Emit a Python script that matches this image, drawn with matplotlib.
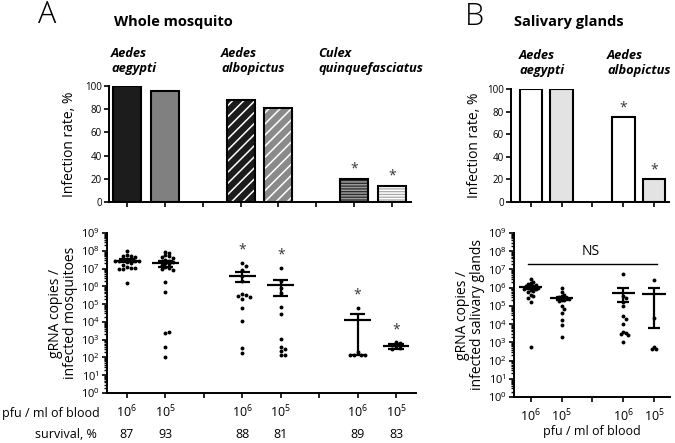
import numpy as np
import matplotlib
matplotlib.use('Agg')
import matplotlib.pyplot as plt
from matplotlib.ticker import LogLocator, NullFormatter
from matplotlib.transforms import blended_transform_factory

plt.rcParams['font.family'] = ['Open Sans', 'DejaVu Sans']
plt.rcParams['mathtext.fontset'] = 'custom'
plt.rcParams['mathtext.rm'] = 'Open Sans'
plt.rcParams['mathtext.it'] = 'Open Sans:italic'
plt.rcParams['mathtext.bf'] = 'Open Sans:bold'
plt.rcParams['hatch.linewidth'] = 1.1

# 数据
species_A = ['Aedes\naegypti', 'Aedes\nalbopictus', 'Culex\nquinquefasciatus']
species_B = ['Aedes\naegypti', 'Aedes\nalbopictus']
dose_labels = [r'$\mathregular{10^6}$', r'$\mathregular{10^5}$']
infection_A = [100, 96, 88, 81, 20, 14]
infection_B = [100, 100, 75, 20]
survival_A = [87, 93, 88, 81, 89, 83]
star_bar_A = [False, False, False, False, True, True]
star_bar_B = [False, False, True, True]
star_dot_A = [False, False, True, True, True, True]

# log10 gRNA copies, whole mosquito
copies_A = [
    [8.0, 7.75, 7.7, 7.7, 7.65, 7.55, 7.5, 7.5, 7.45, 7.45, 7.4, 7.4, 7.35, 7.3, 7.2, 7.1, 7.05, 7.05, 7.0, 7.0, 6.2],
    [7.95, 7.9, 7.75, 7.7, 7.65, 7.6, 7.5, 7.45, 7.4, 7.35, 7.3, 7.25, 7.2, 7.1, 7.05, 7.0, 6.9, 6.25, 5.7, 3.4, 3.45, 2.6, 2.0],
    [7.3, 7.15, 6.9, 6.6, 6.3, 5.55, 5.5, 5.45, 5.4, 5.3, 4.8, 4.05, 2.55, 2.25],
    [7.05, 6.3, 5.9, 5.6, 4.85, 4.45, 3.05, 2.6, 2.45, 2.35, 2.15, 2.15],
    [4.8, 2.3, 2.15, 2.15, 2.15, 2.15],
    [2.85, 2.8, 2.7, 2.65, 2.55, 2.45],
]
mean_A = [7.45, 7.3, 6.57, 6.1, 4.12, 2.64]
sem_lo_A = [7.38, 7.1, 6.25, 5.45, 2.15, 2.5]
sem_hi_A = [7.52, 7.45, 6.8, 6.38, 4.42, 2.76]

# log10 gRNA copies, salivary glands
copies_B = [
    [6.45, 6.3, 6.25, 6.2, 6.15, 6.1, 6.1, 6.05, 6.0, 6.0, 5.95, 5.9, 5.85, 5.8, 5.75, 5.6, 5.55, 5.45, 5.2, 2.75],
    [5.97, 5.75, 5.6, 5.55, 5.5, 5.45, 5.45, 5.4, 5.35, 5.3, 5.25, 5.0, 4.85, 4.6, 4.25, 3.95, 3.3],
    [6.75, 5.55, 5.45, 5.2, 5.0, 4.45, 4.3, 4.0, 3.55, 3.5, 3.45, 3.4, 3.0],
    [6.4, 4.35, 2.75, 2.65, 2.65],
]
mean_B = [6.02, 5.42, 5.69, 5.66]
sem_lo_B = [5.95, 5.33, 5.2, 3.8]
sem_hi_B = [6.1, 5.5, 5.97, 6.0]

W, H = 675, 443


def fpos(x, y):
    return x / W, 1 - y / H


def ax_box(x0, y0, x1, y1):
    return [x0 / W, 1 - y1 / H, (x1 - x0) / W, (y1 - y0) / H]


def swarm(vals, dx, dy):
    placed, offs = [], []
    for v in vals:
        for k in [0, 1, -1, 2, -2, 3, -3, 4, -4, 5, -5]:
            x = k * dx
            if all(((x - px) / dx) ** 2 + ((v - py) / dy) ** 2 >= 1 for px, py in placed):
                break
        placed.append((x, v))
        offs.append(x)
    return offs


def style_axes(ax):
    for s in ['top', 'right']:
        ax.spines[s].set_visible(False)
    for s in ['left', 'bottom']:
        ax.spines[s].set_linewidth(1.4)
    ax.tick_params(direction='out', width=1.2, length=3.5, labelsize=7, pad=1.5)


def bar_panel(ax, pos, vals, styles, stars):
    for p, v, st, s in zip(pos, vals, styles, stars):
        fc, hatch, hc = st
        if hatch:
            ax.bar(p, v, width=0.74, color=fc, edgecolor=hc, hatch=hatch, linewidth=0, zorder=2)
            ax.bar(p, v, width=0.74, fill=False, edgecolor='k', linewidth=1.5, zorder=3)
        else:
            ax.bar(p, v, width=0.74, color=fc, edgecolor='k', linewidth=1.5, zorder=2)
        if s:
            ax.text(p, v + 2, '*', ha='center', va='bottom', fontsize=10, color='#333333')
    ax.set_ylim(0, 100)
    ax.set_yticks([0, 20, 40, 60, 80, 100])
    style_axes(ax)


def dot_panel(ax, pos, groups, means, lo, hi, stars, dx, mean_w, cap_w):
    for p, vals, m, l, h, s in zip(pos, groups, means, lo, hi, stars):
        offs = swarm(vals, dx, 0.2)
        ax.plot(p + np.array(offs), 10 ** np.array(vals), 'o', color='k', ms=2.8, mec='none', zorder=3)
        ax.hlines(10 ** m, p - mean_w / 2, p + mean_w / 2, color='k', lw=1.6, zorder=4)
        ax.vlines(p, 10 ** l, 10 ** h, color='k', lw=1.6, zorder=4)
        ax.hlines([10 ** l, 10 ** h], p - cap_w / 2, p + cap_w / 2, color='k', lw=1.6, zorder=4)
        if s:
            ax.text(p, 10 ** (max(vals) + 0.3), '*', ha='center', va='bottom', fontsize=10, color='#333333')
    ax.set_yscale('log')
    ax.set_ylim(1, 1e9)
    ax.yaxis.set_major_locator(LogLocator(base=10, numticks=12))
    ax.yaxis.set_minor_locator(LogLocator(base=10, subs=np.arange(2, 10), numticks=100))
    ax.yaxis.set_minor_formatter(NullFormatter())
    style_axes(ax)
    ax.tick_params(axis='y', which='major', labelsize=8)
    ax.tick_params(axis='y', which='minor', length=2.2, width=1.0)


fig = plt.figure(figsize=(6.75, 4.43), dpi=100)

pos_A = [g * 3 + d for g in range(3) for d in range(2)]
pos_B = [g * 3 + d for g in range(2) for d in range(2)]

# ---- A: bars
axA1 = fig.add_axes(ax_box(109, 86, 411, 202))
styles_A = [('#1c1c1c', None, None), ('#808080', None, None),
            ('#1c1c1c', '///', 'white'), ('#8a8a8a', '///', 'white'),
            ('#2a2a2a', '------', '#9a9a9a'), ('#a8a8a8', '------', 'white')]
bar_panel(axA1, pos_A, infection_A, styles_A, star_bar_A)
axA1.set_xlim(-0.475, 7.5)
axA1.set_xticks(range(8))
axA1.set_xticklabels([])
axA1.set_ylabel('Infection rate, %', fontsize=10, labelpad=6)

# ---- A: dots
axA2 = fig.add_axes(ax_box(107, 233, 416, 393))
dot_panel(axA2, pos_A, copies_A, mean_A, sem_lo_A, sem_hi_A, star_dot_A, 0.1, 0.7, 0.4)
axA2.set_xlim(-0.52, 7.52)
axA2.set_xticks(range(8))
axA2.set_xticklabels([])
axA2.set_ylabel('gRNA copies /\ninfected mosquitoes', fontsize=10, labelpad=2, linespacing=1.0)

tr = blended_transform_factory(axA2.transData, fig.transFigure)
for i, p in enumerate(pos_A):
    fig.text(p, 1 - 412 / H, dose_labels[i % 2], transform=tr, ha='center', va='center', fontsize=9)
    fig.text(p, 1 - 434 / H, str(survival_A[i]), transform=tr, ha='center', va='center', fontsize=9)
fig.text(*fpos(100, 414), 'pfu / ml of blood', ha='right', va='center', fontsize=9)
fig.text(*fpos(97, 435), 'survival, %', ha='right', va='center', fontsize=9)

# ---- B: bars
axB1 = fig.add_axes(ax_box(511, 89, 669, 202))
styles_B = [('white', None, None), ('#e3e3e3', None, None)] * 2
bar_panel(axB1, pos_B, infection_B, styles_B, star_bar_B)
axB1.set_xlim(-0.65, 4.49)
axB1.set_xticks(range(5))
axB1.set_xticklabels([])
axB1.set_ylabel('Infection rate, %', fontsize=10, labelpad=4)

# ---- B: dots
axB2 = fig.add_axes(ax_box(514, 233, 670, 397))
dot_panel(axB2, pos_B, copies_B, mean_B, sem_lo_B, sem_hi_B, [False] * 4, 0.08, 0.75, 0.4)
axB2.set_xlim(-0.55, 4.52)
axB2.set_xticks(range(5))
axB2.set_xticklabels([dose_labels[0], dose_labels[1], '', dose_labels[0], dose_labels[1]], fontsize=9)
axB2.tick_params(axis='x', pad=4)
axB2.set_xlabel('pfu / ml of blood', fontsize=9, labelpad=1)
axB2.set_ylabel('gRNA copies /\ninfected salivary glands', fontsize=10, labelpad=2, linespacing=1.0)
axB2.plot([-0.1, 4.1], [10 ** 7.31, 10 ** 7.31], color='k', lw=1.0)
axB2.text(1.95, 10 ** 7.55, 'NS', ha='center', va='bottom', fontsize=10)

# ---- titles and species labels
fig.text(*fpos(47, 15), 'A', ha='center', va='center', fontsize=22, fontweight='light')
fig.text(*fpos(474, 17), 'B', ha='center', va='center', fontsize=22, fontweight='light')
fig.text(*fpos(114, 22), 'Whole mosquito', ha='left', va='center', fontsize=10.5, fontweight='bold')
fig.text(*fpos(514, 22), 'Salivary glands', ha='left', va='center', fontsize=10.5, fontweight='bold')
for name, x in zip(species_A, [111, 221, 318]):
    fig.text(*fpos(x, 61), name, ha='left', va='center', fontsize=9.3, fontweight='bold',
             style='italic', linespacing=1.25)
for name, x in zip(species_B, [519, 607]):
    fig.text(*fpos(x, 63), name, ha='left', va='center', fontsize=9.3, fontweight='bold',
             style='italic', linespacing=1.25)

fig.savefig('out.png', dpi=100)
